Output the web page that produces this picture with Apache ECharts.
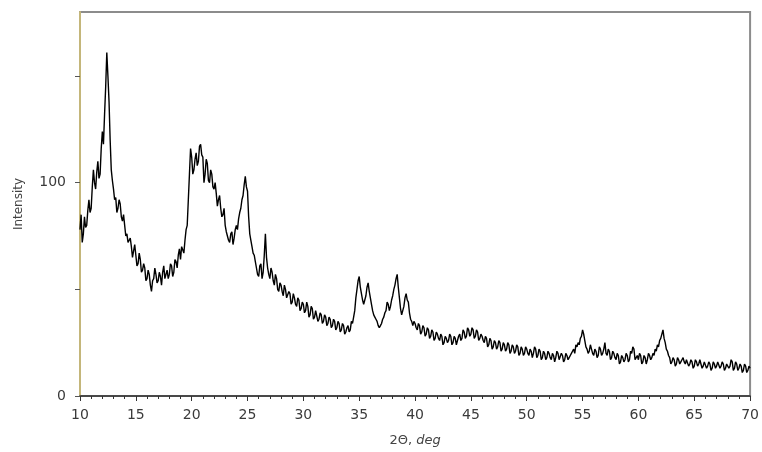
<!DOCTYPE html>
<html>
<head>
<meta charset="utf-8">
<script src="https://cdn.jsdelivr.net/npm/echarts@6/dist/echarts.min.js"></script>
<style>
  html, body { margin: 0; padding: 0; background: #fff; }
  #chart { width: 762px; height: 452px; }
</style>
</head>
<body>
<div id="chart"></div>
<script>
// scan settings, 2theta in deg
var scanStart = 10
var scanStep = 0.1

// intensity, one row = 2 deg
var intensity = [
  78,85,72,76,84,79,80,87,92,86,88,98,106,100,97,105,110,102,104,116,
  124,118,132,145,161,150,138,120,106,101,97,92,93,86,88,92,90,84,82,85,
  80,75,76,72,73,74,70,65,68,71,66,61,62,67,64,58,59,62,60,54,
  55,59,57,52,49,54,55,60,57,53,54,58,56,52,58,61,55,57,59,55,
  57,62,61,56,58,64,63,60,66,69,64,70,70,67,73,78,80,92,104,116,
  112,104,106,111,114,108,110,117,118,113,112,100,104,111,109,101,100,106,104,98,
  97,100,95,89,92,94,88,84,85,88,80,77,75,73,72,76,77,71,74,78,
  80,78,83,86,88,92,94,99,103,98,96,84,76,73,70,67,66,63,60,57,
  56,61,62,55,58,66,76,65,60,57,55,60,58,54,52,57,55,50,49,53,
  52,49,47,52,50,46,46,49,48,43,44,48,46,43,42,46,45,40,41,44,
  43,39,40,44,42,37,38,42,41,36,37,40,40,35,36,39,38,34,35,38,
  37,33,34,37,36,32,33,36,35,31,32,35,34,30,31,34,33,29,30,32,
  33,30,31,35,34,37,40,46,50,54,56,51,48,45,43,45,47,51,53,49,
  46,43,40,38,37,36,35,33,32,33,34,36,37,39,40,44,43,40,42,45,
  47,50,52,55,57,51,46,41,38,40,42,46,48,45,44,39,36,35,33,35,
  34,32,31,34,33,29,30,33,32,28,29,32,31,27,28,31,30,26,27,30,
  29,27,26,29,28,24,25,28,27,25,26,29,28,24,25,28,27,24,26,28,
  29,26,27,31,30,27,28,32,31,28,29,32,31,27,28,31,30,26,27,29,
  28,26,25,28,27,23,24,27,26,22,23,26,25,22,23,26,25,21,22,25,
  24,21,22,25,24,20,21,24,23,20,21,24,23,19,20,23,22,19,20,23,
  22,20,19,22,21,18,20,23,22,18,19,22,21,17,18,21,20,17,18,21,
  20,18,17,20,19,16,18,21,20,17,17,20,19,16,17,20,19,17,18,19,
  20,21,22,20,24,23,25,24,27,28,31,29,26,23,22,20,21,24,22,20,
  19,22,21,18,19,23,22,19,20,22,25,20,19,22,21,17,18,21,20,18,
  17,20,19,15,16,19,18,16,17,20,19,16,17,21,20,23,22,17,18,19,
  17,20,19,15,16,19,18,15,17,20,19,17,18,20,19,22,21,24,23,26,
  27,29,31,27,25,22,21,19,18,15,16,18,17,14,15,18,17,15,16,17,
  18,16,15,17,17,14,15,17,16,13,14,17,16,14,15,17,17,13,14,16,
  16,13,14,16,15,12,13,16,15,13,14,16,16,13,14,16,15,12,13,15,
  15,13,14,17,16,12,13,16,15,12,13,15,14,11,12,15,14,11,12,14,
  13
]

var yTicks = [0, 50, 100, 150]
var yLabels = [0, 100]

var points = []
for (var i = 0, len = intensity.length; i < len; i++) {
  points.push([+(scanStart + i * scanStep).toFixed(1), intensity[i]])
}

var chart = echarts.init(document.getElementById('chart'))
var option = {
  animation: false,
  backgroundColor: '#fff',
  grid: {
    left: 80, right: 10, top: 12, bottom: 54,
    show: true,
    borderColor: '#8c8c8c',
    borderWidth: 2
  },
  xAxis: {
    type: 'value',
    min: 10, max: 70, interval: 5,
    name: '2Θ, {it|deg}',
    nameLocation: 'middle',
    nameGap: 38,
    nameTextStyle: {
      fontFamily: 'DejaVu Sans', fontSize: 13, color: '#444',
      rich: { it: { fontStyle: 'italic', fontFamily: 'DejaVu Sans', fontSize: 13, color: '#444' } }
    },
    axisLine: { lineStyle: { color: '#333', width: 1.5 } },
    axisTick: { show: true, inside: false, length: 5, lineStyle: { color: '#333' } },
    minorTick: { show: true, splitNumber: 5, length: 3, lineStyle: { color: '#333' } },
    splitLine: { show: false },
    axisLabel: { fontFamily: 'DejaVu Sans', fontSize: 14, color: '#3a3a3a', margin: 12 }
  },
  yAxis: {
    type: 'value',
    min: 0, max: 180,
    name: 'Intensity',
    nameLocation: 'middle',
    nameGap: 55,
    nameRotate: 90,
    nameTextStyle: { fontFamily: 'DejaVu Sans', fontSize: 12, color: '#444' },
    axisLine: { show: true, lineStyle: { color: '#c4b67a', width: 2 } },
    axisTick: { show: true, inside: false, length: 5, customValues: yTicks, lineStyle: { color: '#555' } },
    splitLine: { show: false },
    axisLabel: { customValues: yLabels, fontFamily: 'DejaVu Sans', fontSize: 14, color: '#3a3a3a', margin: 14 }
  },
  series: [{
    type: 'line',
    data: points,
    showSymbol: false,
    lineStyle: { color: '#000', width: 1.4 }
  }]
}
chart.setOption(option)
</script>
</body>
</html>
